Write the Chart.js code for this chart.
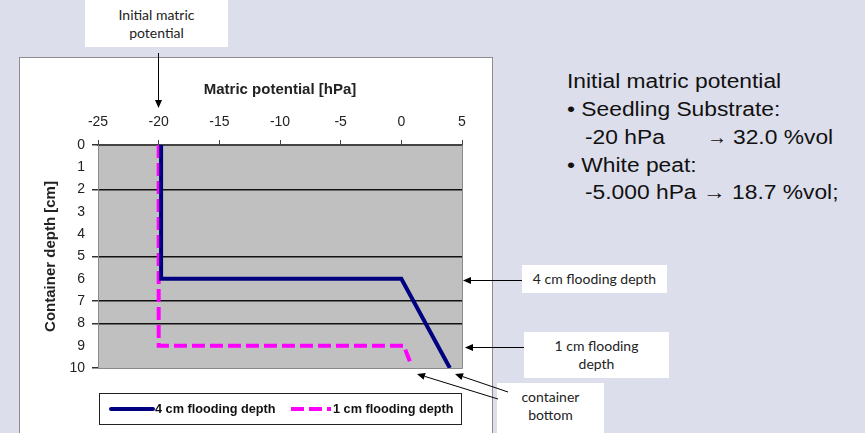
<!DOCTYPE html>
<html>
<head>
<meta charset="utf-8">
<script src="https://cdn.jsdelivr.net/npm/chart.js@4.4.0/dist/chart.umd.min.js"></script>
<style>
  body { margin: 0; width: 865px; height: 433px; background: #dddeeb; position: relative; overflow: hidden; font-family: "Liberation Sans", Arial, sans-serif; }
  #frame { position: absolute; left: 19px; top: 57px; width: 472px; height: 400px; background: #fff; border: 1px solid #8c8c8c; }
  #c { position: absolute; left: 0; top: 0; }
  .note { position: absolute; background: #fff; font-family: Lato, sans-serif; font-size: 14px; color: #222; text-align: center; line-height: 18px; box-sizing: border-box; }
  .side { position: absolute; font-size: 20px; line-height: 20px; color: #111; white-space: pre; transform-origin: 0 0; transform: scaleX(1.14); }
</style>
</head>
<body>
<div id="frame"></div>

<div class="note" style="left:85px; top:0; width:143px; height:47px; padding-top:6px;">Initial matric<br>potential</div>
<div class="note" style="left:522px; top:265px; width:145px; height:28px; padding-top:5px;">4 cm flooding depth</div>
<div class="note" style="left:524px; top:332px; width:145px; height:46px; padding-top:5px;">1 cm flooding<br>depth</div>
<div class="note" style="left:497px; top:383px; width:107px; height:60px; padding-top:5px;">container<br>bottom</div>

<div class="side" style="left:567px; top:71px;">Initial matric potential</div>
<div class="side" style="left:567px; top:99px;">• Seedling Substrate:</div>
<div class="side" style="left:585px; top:127px;">-20 hPa</div>
<div class="side" style="left:707px; top:127px; transform:none;">→ <span style="display:inline-block; transform:scaleX(1.14); transform-origin:0 0;">32.0 %vol</span></div>
<div class="side" style="left:567px; top:155px;">• White peat:</div>
<div class="side" style="left:585px; top:182px;">-5.000 hPa → 18.7 %vol;</div>

<canvas id="c" width="865" height="433"></canvas>

<script>
// valeurs (potentiel en hPa, profondeur en cm)
const flood4X = [-19.8, -19.8, 0, 4];
const flood4Y = [0, 6, 6, 10];
const flood1X = [-20, -20, 0.2, 0.7];
const flood1Y = [0, 9, 9, 9.7];
const seriesNames = ["4 cm flooding depth", "1 cm flooding depth"];
const xMin = -25, xMax = 5, xStep = 5;
const yMin = 0, yMax = 10;
// lignes horizontales (limites de couches)
const layerLines = [2, 5, 7, 8];
const tickMarks = [0, 2, 5, 7, 8, 10];

function toPoints(xs, ys) {
  return xs.map(function (x, i) { return { x: x, y: ys[i] }; });
}

// petite fleche noire
function arrow(ctx, x1, y1, x2, y2) {
  const ang = Math.atan2(y2 - y1, x2 - x1);
  const len = 8, half = 3.5;
  ctx.beginPath();
  ctx.moveTo(x1, y1);
  ctx.lineTo(x2 - Math.cos(ang) * len, y2 - Math.sin(ang) * len);
  ctx.stroke();
  ctx.beginPath();
  ctx.moveTo(x2, y2);
  ctx.lineTo(x2 - Math.cos(ang) * len - Math.sin(ang) * half, y2 - Math.sin(ang) * len + Math.cos(ang) * half);
  ctx.lineTo(x2 - Math.cos(ang) * len + Math.sin(ang) * half, y2 - Math.sin(ang) * len - Math.cos(ang) * half);
  ctx.closePath();
  ctx.fill();
}

const decor = {
  id: "decor",
  beforeDraw(chart) {
    const a = chart.chartArea, ctx = chart.ctx;
    ctx.save();
    ctx.fillStyle = "#c0c0c0";
    ctx.fillRect(a.left, a.top, a.right - a.left, a.bottom - a.top);
    ctx.restore();
  },
  afterDraw(chart) {
    const a = chart.chartArea, ctx = chart.ctx;
    ctx.save();
    // bords droit et bas
    ctx.strokeStyle = "#8a8a8a";
    ctx.lineWidth = 1;
    ctx.beginPath();
    ctx.moveTo(a.right + 0.5, a.top);
    ctx.lineTo(a.right + 0.5, a.bottom + 0.5);
    ctx.lineTo(a.left, a.bottom + 0.5);
    ctx.stroke();

    // legende
    ctx.fillStyle = "#fff";
    ctx.fillRect(99.5, 393.5, 362, 31);
    ctx.strokeStyle = "#222";
    ctx.strokeRect(99.5, 393.5, 362, 31);
    const sx = [[111, 153, 155], [291, 331, 333]];
    chart.data.datasets.forEach(function (ds, i) {
      ctx.strokeStyle = ds.borderColor;
      ctx.lineWidth = 4;
      ctx.lineCap = i == 0 ? "round" : "butt";
      ctx.setLineDash(ds.borderDash || []);
      ctx.beginPath();
      ctx.moveTo(sx[i][0], 409);
      ctx.lineTo(sx[i][1], 409);
      ctx.stroke();
      ctx.setLineDash([]);
      ctx.fillStyle = "#111";
      ctx.font = "bold 12.7px 'Liberation Sans', Arial";
      ctx.textBaseline = "middle";
      ctx.fillText(ds.label, sx[i][2], 409);
    });

    // fleches des annotations
    ctx.strokeStyle = "#000";
    ctx.fillStyle = "#000";
    ctx.lineWidth = 1;
    ctx.lineCap = "butt";
    arrow(ctx, 158.5, 53, 158.5, 108);
    arrow(ctx, 522, 280.5, 463, 280.5);
    arrow(ctx, 524, 347.5, 465, 347.5);
    arrow(ctx, 498, 399, 417, 374);
    arrow(ctx, 508, 392, 455, 374);
    ctx.restore();
  }
};

new Chart(document.getElementById("c"), {
  type: "scatter",
  data: {
    datasets: [
      {
        label: seriesNames[0],
        data: toPoints(flood4X, flood4Y),
        showLine: true,
        borderColor: "#000080",
        backgroundColor: "#000080",
        borderWidth: 4,
        pointRadius: 0,
        borderJoinStyle: "miter"
      },
      {
        label: seriesNames[1],
        data: toPoints(flood1X, flood1Y),
        showLine: true,
        borderColor: "#ff00ff",
        backgroundColor: "#ff00ff",
        borderWidth: 4,
        borderDash: [13, 5],
        pointRadius: 0,
        borderJoinStyle: "miter"
      }
    ]
  },
  options: {
    responsive: false,
    animation: false,
    layout: { padding: { left: 40, top: 75, right: 403, bottom: 65 } },
    plugins: { legend: { display: false }, title: { display: false }, tooltip: { enabled: false } },
    scales: {
      x: {
        type: "linear",
        position: "top",
        min: xMin,
        max: xMax,
        ticks: { stepSize: xStep, color: "#222", padding: 9, font: { family: "'Liberation Sans', Arial", size: 14 } },
        grid: { drawOnChartArea: false, drawTicks: true, tickLength: 5, color: "#444" },
        border: { color: "#444", width: 2 },
        title: { display: true, text: "Matric potential [hPa]", color: "#222", padding: { top: 6, bottom: 0 }, font: { family: "'Liberation Sans', Arial", size: 15, weight: "bold" } },
        afterFit: function (scale) { scale.height = 70; }
      },
      y: {
        type: "linear",
        reverse: true,
        min: yMin,
        max: yMax,
        ticks: { stepSize: 1, color: "#222", padding: 7, font: { family: "'Liberation Sans', Arial", size: 14 } },
        grid: {
          tickLength: 6,
          lineWidth: 1.5,
          color: function (c) { return layerLines.includes(c.tick.value) ? "#111" : "rgba(0,0,0,0)"; },
          tickColor: function (c) { return tickMarks.includes(c.tick.value) ? "#333" : "rgba(0,0,0,0)"; }
        },
        border: { color: "#8a8a8a", width: 1 },
        title: { display: true, text: "Container depth [cm]", color: "#222", padding: { top: 2, bottom: 0 }, font: { family: "'Liberation Sans', Arial", size: 15, weight: "bold" } },
        afterFit: function (scale) { scale.width = 58; }
      }
    }
  },
  plugins: [decor]
});
</script>
</body>
</html>
